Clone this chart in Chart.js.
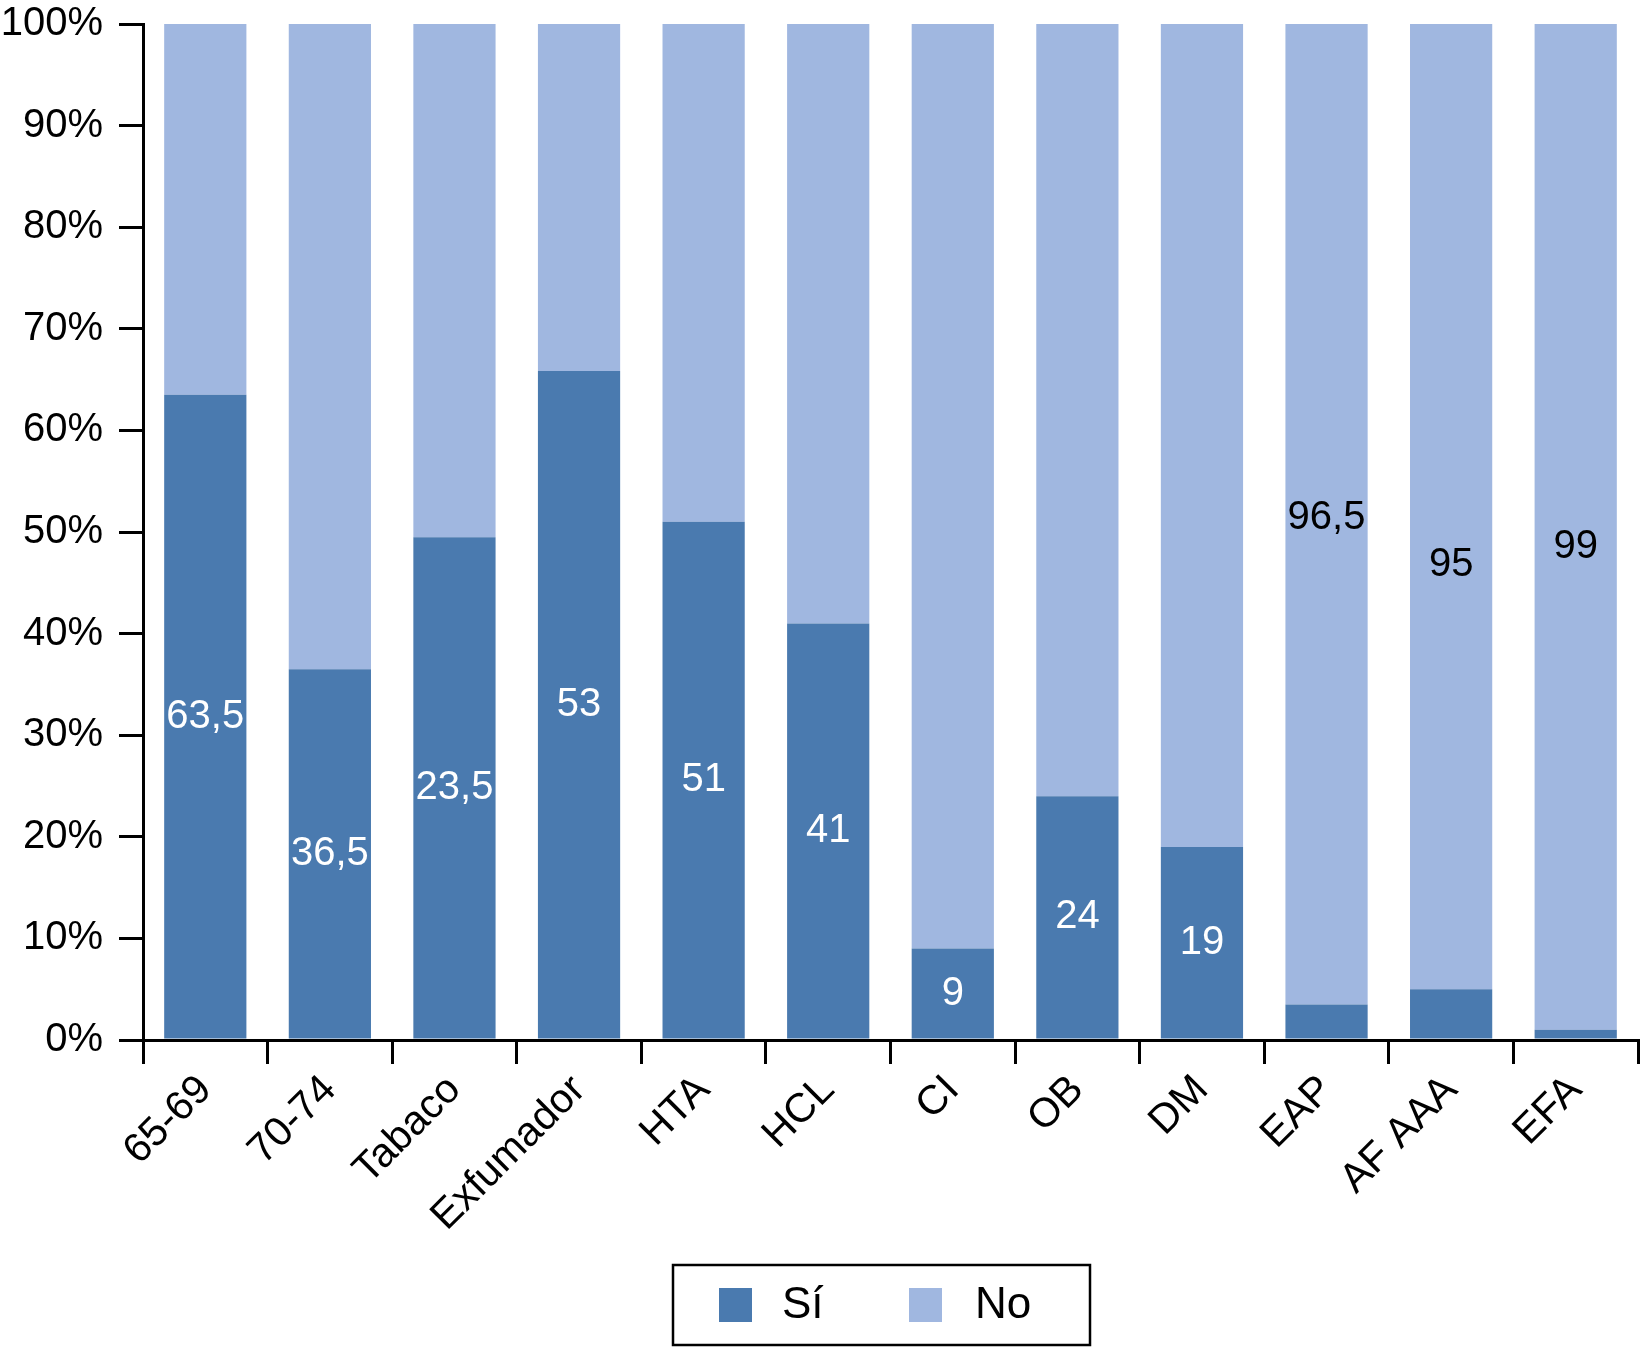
<!DOCTYPE html>
<html>
<head>
<meta charset="utf-8">
<script src="https://cdn.jsdelivr.net/npm/chart.js@4/dist/chart.umd.min.js"></script>
<style>
  html, body { margin: 0; padding: 0; background: #fff; }
  #wrap { width: 1642px; height: 1348px; }
</style>
</head>
<body>
<div id="wrap"><canvas id="chart" width="1642" height="1348"></canvas></div>
<script>
// --- Data ---
const categories = ["65-69", "70-74", "Tabaco", "Exfumador", "HTA", "HCL", "CI", "OB", "DM", "EAP", "AF AAA", "EFA"];
const siValues = [63.5, 36.5, 23.5, 53, 51, 41, 9, 24, 19, 3.5, 5, 1];
const noValues = [36.5, 63.5, 24, 27.5, 49, 59, 91, 76, 81, 96.5, 95, 99];
const siShown = [true, true, true, true, true, true, true, true, true, false, false, false];
const noShown = [false, false, false, false, false, false, false, false, false, true, true, true];
const yTicks = [0, 10, 20, 30, 40, 50, 60, 70, 80, 90, 100];

const SI_COLOR = "#4a7aaf";
const NO_COLOR = "#a0b7e0";
const FONT = "'Liberation Sans', Arial, Helvetica, sans-serif";

// 100% stacked: heights are each part of the bar total
const siPct = siValues.map((v, i) => v / (v + noValues[i]) * 100);
const noPct = noValues.map((v, i) => v / (siValues[i] + v) * 100);

// draws the value inside each segment
const segmentLabels = {
  id: "segmentLabels",
  afterDatasetsDraw(chart, args, opts) {
    const ctx = chart.ctx;
    const raw = [siValues, noValues];
    const shown = [siShown, noShown];
    const colors = ["#ffffff", "#000000"];
    ctx.save();
    ctx.font = "40px " + FONT;
    ctx.textAlign = "center";
    ctx.textBaseline = "middle";
    chart.data.datasets.forEach((ds, d) => {
      chart.getDatasetMeta(d).data.forEach((bar, i) => {
        if (!shown[d][i]) return;
        // small hand nudges, as in the original figure
        const shift = (opts.shift[d] && opts.shift[d][i]) || 0;
        const y = (bar.y + bar.base) / 2 + shift;
        ctx.fillStyle = colors[d];
        ctx.fillText(String(raw[d][i]).replace(".", ","), bar.x, y);
      });
    });
    ctx.restore();
  }
};

// boxed legend under the axis labels
const boxLegend = {
  id: "boxLegend",
  afterDraw(chart) {
    const ctx = chart.ctx;
    ctx.save();
    ctx.strokeStyle = "#000";
    ctx.lineWidth = 2.5;
    ctx.strokeRect(673, 1265, 417, 80);
    const items = [
      { sq: 719, tx: 782 },
      { sq: 909, tx: 975 }
    ];
    ctx.font = "44px " + FONT;
    ctx.textBaseline = "middle";
    ctx.textAlign = "left";
    chart.data.datasets.forEach((ds, d) => {
      ctx.fillStyle = ds.backgroundColor;
      ctx.fillRect(items[d].sq, 1288, 33, 34);
      ctx.fillStyle = "#000";
      ctx.fillText(ds.label, items[d].tx, 1306);
    });
    ctx.restore();
  }
};

new Chart(document.getElementById("chart"), {
  type: "bar",
  data: {
    labels: categories,
    datasets: [
      { label: "Sí", data: siPct, backgroundColor: SI_COLOR, barPercentage: 0.66, categoryPercentage: 1 },
      { label: "No", data: noPct, backgroundColor: NO_COLOR, barPercentage: 0.66, categoryPercentage: 1 }
    ]
  },
  options: {
    responsive: false,
    devicePixelRatio: 1,
    animation: false,
    layout: { padding: { top: 24, right: 4, bottom: 0, left: 0 } },
    plugins: {
      legend: { display: false },
      tooltip: { enabled: false },
      segmentLabels: { shift: [[], [0, 0, 0, 0, 0, 0, 0, 0, 0, 4, 58, 20]] }
    },
    scales: {
      x: {
        stacked: true,
        afterFit: (s) => { s.height = 308; },
        grid: { offset: true, drawOnChartArea: false, tickLength: 24, color: "#000", lineWidth: 3 },
        border: { display: true, color: "#000", width: 3 },
        ticks: {
          autoSkip: false, maxRotation: 45, minRotation: 45, padding: 2,
          color: "#000", font: { family: FONT, size: 41 }
        }
      },
      y: {
        stacked: true,
        min: 0, max: 100,
        afterFit: (s) => { s.width = 143; s.paddingTop = 0; s.paddingBottom = 0; },
        afterBuildTicks: (s) => { s.ticks = yTicks.map(v => ({ value: v })); },
        grid: { drawOnChartArea: false, tickLength: 24, color: "#000", lineWidth: 3 },
        border: { display: true, color: "#000", width: 3 },
        ticks: {
          padding: 16, color: "#000", font: { family: FONT, size: 40 },
          callback: (v) => v + "%"
        }
      }
    }
  },
  plugins: [segmentLabels, boxLegend]
});
</script>
</body>
</html>
